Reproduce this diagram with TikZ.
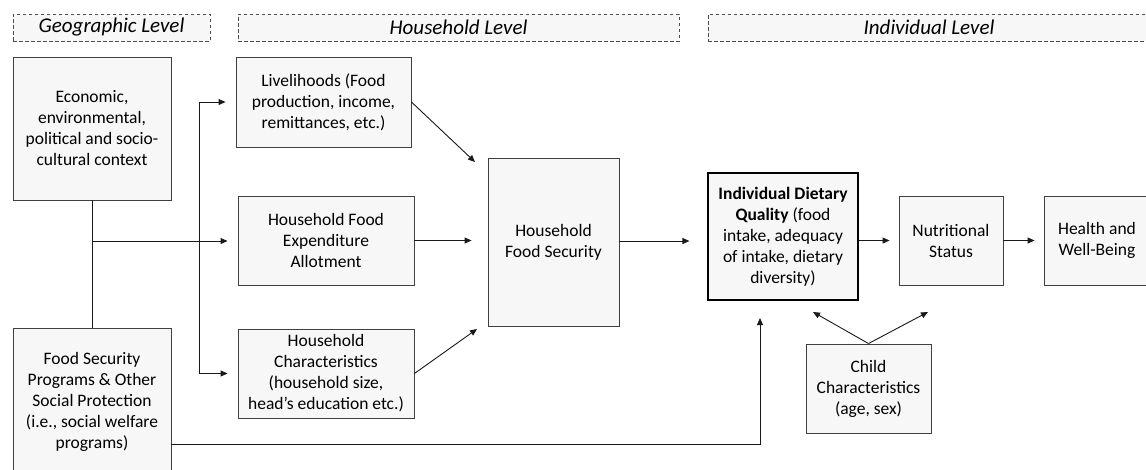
\documentclass[tikz,border=0pt]{standalone}
\usepackage{fontspec}
\setmainfont{Carlito}
\usetikzlibrary{arrows.meta,calc}
\begin{document}
\begin{tikzpicture}[x=1pt,y=-1pt,
  box/.style={draw=black!75,line width=0.9pt,fill=black!3,align=center,inner sep=0pt,
    font=\fontsize{17.5}{21}\selectfont},
  hdr/.style={draw=black!70,line width=0.8pt,dash pattern=on 3.5pt off 2.5pt,fill=black!3,
    inner sep=0pt,font=\fontsize{21}{25}\selectfont\itshape},
  arr/.style={draw=black!90,line width=0.9pt,-{Triangle[length=7pt,width=6pt]}},
  ln/.style={draw=black!90,line width=0.9pt}]
\useasboundingbox (0,0) rectangle (1146,469);
% headers
\node[hdr,minimum width=197pt,minimum height=27pt] (hgeo) at (111.5,27.5) {Geographic Level};
\node[hdr,minimum width=441pt,minimum height=27pt] (hhh) at (458.5,27.5) {Household Level};
\node[hdr,minimum width=442pt,minimum height=27pt] (hind) at (929,27.5) {Individual Level};
% boxes
\node[box,minimum width=158pt,minimum height=143pt] (ctx) at (92,128.5)
  {Economic,\\environmental,\\political and socio-\\cultural context};
\node[box,minimum width=158pt,minimum height=147pt] (fsp) at (92,401.5)
  {Food Security\\Programs \& Other\\Social Protection\\(i.e., social welfare\\programs)};
\node[box,minimum width=175pt,minimum height=90pt] (liv) at (323.5,102)
  {Livelihoods (Food\\production, income,\\remittances, etc.)};
\node[box,minimum width=176pt,minimum height=89pt] (hfe) at (326,240.5)
  {Household Food\\Expenditure\\Allotment};
\node[box,minimum width=176pt,minimum height=89pt] (hc) at (326,373.5)
  {Household\\Characteristics\\(household size,\\head’s education etc.)};
\node[box,minimum width=131pt,minimum height=168pt] (hfs) at (553.5,242)
  {Household\\Food Security};
\node[box,draw=black,line width=1.2pt,minimum width=150pt,minimum height=127pt] (idq) at (783,236.5)
  {\textbf{Individual Dietary}\\\textbf{Quality} (food\\intake, adequacy\\of intake, dietary\\diversity)};
\node[box,minimum width=104pt,minimum height=89pt] (ns) at (951,240.5)
  {Nutritional\\Status};
\node[box,minimum width=106pt,minimum height=89pt] (hwb) at (1097,240.5)
  {Health and\\Well-Being};
\node[box,minimum width=125pt,minimum height=89pt] (cc) at (868.5,388.5)
  {Child\\Characteristics\\(age, sex)};
% coordinates
\coordinate (j1) at (92,241);
\coordinate (vt) at (199,102);
\coordinate (vb) at (199,373.5);
\coordinate (t1) at (475,162);
\coordinate (t2) at (477,329);
\coordinate (t3) at (813,312);
\coordinate (t4) at (928,312);
\coordinate (fc) at (760,444);
\coordinate (ft) at (760,318);
% connectors
\draw[ln] (ctx.south) -- (fsp.north);
\draw[arr,shorten >=10pt] (j1) -- (j1 -| hfe.west);
\draw[ln] (vt) -- (vb);
\draw[arr,shorten >=10pt] (vt) -- (liv.west);
\draw[arr,shorten >=10pt] (vb) -- (hc.west);
\draw[arr] (liv.east) -- (t1);
\draw[arr] (hc.east) -- (t2);
\draw[arr,shorten >=16pt] (hfe.east) -- (hfe.east -| hfs.west);
\draw[arr,shorten >=18pt] (hfs.east |- j1) -- (j1 -| idq.west);
\draw[arr,shorten >=9pt] (ns.west -| idq.east) -- (ns.west);
\draw[arr,shorten >=9pt] (ns.east) -- (hwb.west);
\draw[arr] (cc.north) -- (t3);
\draw[arr] (cc.north) -- (t4);
\draw[arr] (fc -| fsp.east) -- (fc) -- (ft);
\end{tikzpicture}
\end{document}
